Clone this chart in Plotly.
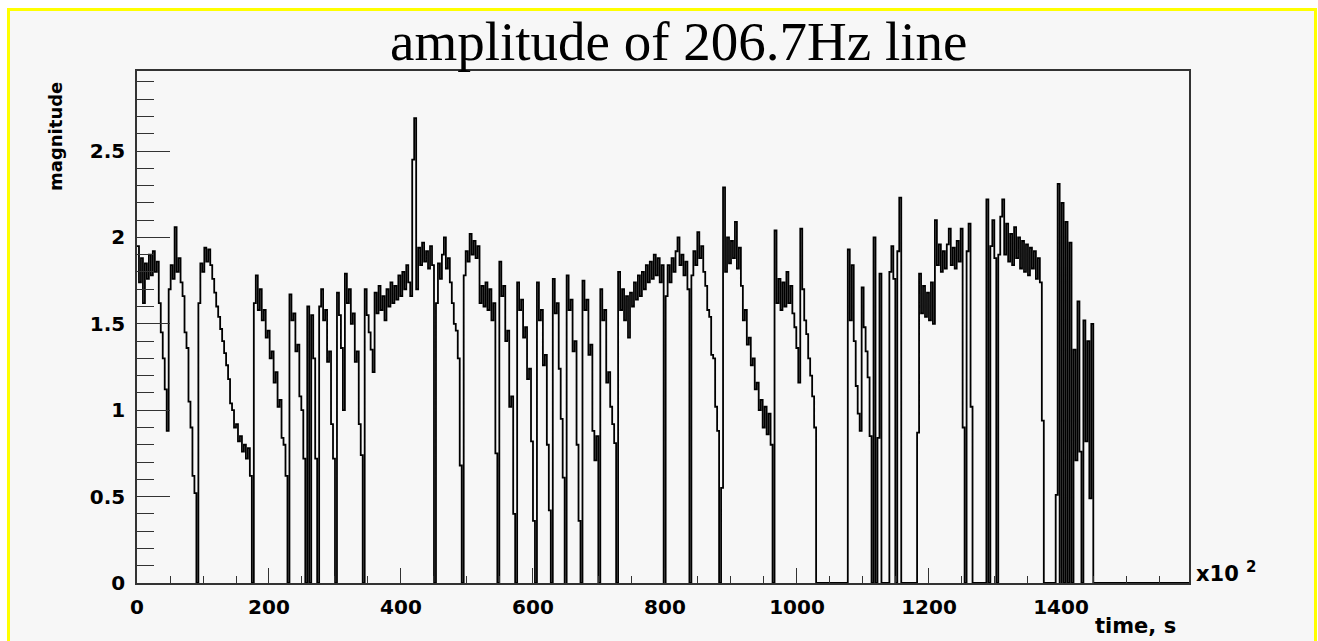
import numpy as np
import plotly.graph_objects as go

# Histogram binning (time axis in units of 10^2 s)
BIN = 3.0
T_MAX = 1594.0

# Start time of each contiguous run of filled bins, and the bin contents of that run.
# Bins outside these runs are empty (magnitude 0).
run_start = [0, 48, 93, 177, 231, 258, 264, 276, 303, 315, 345, 453, 495, 549, 576,
             606, 630, 651, 675, 702, 729, 801, 840, 885, 966, 1077, 1116, 1140,
             1182, 1257, 1287, 1293, 1305, 1392]

run_values = [
    [1.95, 1.74, 1.88, 1.62, 1.85, 1.76, 1.90, 1.78, 1.92, 1.80, 1.86, 1.62, 1.45, 1.30, 1.12, 0.88],
    [1.70, 1.84, 1.76, 2.06, 1.80, 1.88, 1.74, 1.66, 1.45, 1.36, 1.05, 0.90, 0.62, 0.52],
    [1.62, 1.85, 1.80, 1.94, 1.86, 1.93, 1.84, 1.76, 1.68, 1.60, 1.54, 1.47, 1.40, 1.33, 1.26,
     1.18, 1.04, 1.00, 0.90, 0.92, 0.82, 0.85, 0.76, 0.80, 0.72, 0.78, 0.62],
    [1.62, 1.78, 1.58, 1.70, 1.52, 1.58, 1.42, 1.46, 1.30, 1.34, 1.16, 1.22, 1.02, 1.06, 0.84, 0.80, 0.62],
    [1.67, 1.52, 1.56, 1.34, 1.38, 1.08, 1.00, 0.72],
    [1.60],
    [1.55, 1.30, 0.72],
    [1.60, 1.70, 1.52, 1.58, 1.28, 1.34, 0.92, 0.72],
    [1.68, 1.55, 1.36, 1.00],
    [1.79, 1.62, 1.70, 1.50, 1.56, 1.28, 1.34, 0.92, 0.74],
    [1.70, 1.55, 1.45, 1.35, 1.22, 1.68, 1.56, 1.72, 1.58, 1.66, 1.52, 1.70, 1.60, 1.74, 1.62,
     1.72, 1.64, 1.78, 1.66, 1.80, 1.70, 1.84, 1.74, 1.66, 2.45, 2.69, 1.70, 1.94, 1.84, 1.97,
     1.86, 1.92, 1.82, 1.95, 1.84],
    [1.62, 1.85, 1.76, 1.90, 2.00, 1.82, 1.88, 1.74, 1.62, 1.50, 1.46, 1.30, 0.68],
    [1.78, 1.92, 1.86, 2.02, 1.90, 1.98, 1.88, 1.95, 1.62, 1.72, 1.60, 1.74, 1.58, 1.70, 1.52, 1.62, 0.75],
    [1.86, 1.66, 1.72, 1.40, 1.46, 1.02, 1.08, 0.40],
    [1.74, 1.58, 1.64, 1.42, 1.48, 1.18, 1.24, 0.82, 0.36],
    [1.74, 1.52, 1.58, 1.26, 1.32, 0.80, 0.42],
    [1.76, 1.56, 1.62, 1.24, 0.95, 0.61],
    [1.78, 1.58, 1.64, 1.34, 1.40, 0.80, 0.36],
    [1.75, 1.58, 1.64, 1.32, 1.38, 0.88, 0.71, 0.85],
    [1.70, 1.52, 1.58, 1.16, 1.22, 1.02, 0.92, 0.81],
    [1.80, 1.58, 1.70, 1.52, 1.66, 1.42, 1.68, 1.60, 1.74, 1.64, 1.78, 1.66, 1.80, 1.70, 1.84,
     1.74, 1.86, 1.76, 1.90, 1.78, 1.88, 1.74, 1.84],
    [1.66, 1.84, 1.74, 1.88, 1.80, 1.92, 2.00, 1.84, 1.90, 1.78, 1.86, 1.70],
    [1.78, 1.92, 1.84, 2.03, 1.88, 1.95, 1.80, 1.72, 1.58, 1.54, 1.32, 1.30, 1.02, 0.88],
    [0.55, 2.29, 1.80, 2.00, 1.85, 1.98, 1.88, 2.09, 1.82, 1.94, 1.72, 1.52, 1.58, 1.38, 1.42,
     1.26, 1.30, 1.12, 1.16, 1.00, 1.06, 0.90, 1.02, 0.86, 0.98, 0.80],
    [2.04, 1.62, 1.76, 1.58, 1.74, 1.60, 1.80, 1.62, 1.72, 1.56, 1.48, 1.36, 1.16, 2.05, 1.70,
     1.52, 1.44, 1.30, 1.20, 1.08, 0.90],
    [1.93, 1.52, 1.84, 1.40, 1.14, 0.98, 0.88, 1.71, 1.48, 1.34, 1.19, 0.85],
    [2.00, 0.0, 0.84, 1.79],
    [1.80, 1.95, 1.76, 0.0, 1.92, 2.23],
    [0.87, 1.79, 1.56, 1.72, 1.54, 1.68, 1.52, 1.74, 1.50, 2.10, 1.84, 1.96, 1.80, 1.92, 1.82,
     1.96, 2.05, 1.84, 1.94, 1.82, 1.98, 1.86, 2.05, 0.90],
    [1.92, 2.08, 1.02],
    [2.22],
    [1.95, 2.10, 1.88],
    [1.90, 2.12, 2.22, 1.90, 2.08, 1.86, 2.02, 1.84, 2.06, 1.88, 2.00, 1.82, 1.98, 1.80, 1.96,
     1.78, 1.94, 1.82, 1.92, 1.76, 1.88, 1.74, 0.94],
    [0.51, 2.31, 0.0, 2.20, 0.0, 2.09, 0.0, 1.97, 0.0, 1.35, 0.71, 1.63, 0.76, 0.0, 1.52,
     0.82, 1.40, 0.49, 1.50],
]

x_tick_vals = [0, 200, 400, 600, 800, 1000, 1200, 1400]
y_tick_vals = [0, 0.5, 1, 1.5, 2, 2.5]
y_tick_text = ["0", "0.5", "1", "1.5", "2", "2.5"]

# Fill the histogram bins
n_bins = int(np.ceil(T_MAX / BIN))
magnitude = np.zeros(n_bins)
for start, vals in zip(run_start, run_values):
    k = int(round(start / BIN))
    magnitude[k:k + len(vals)] = vals

edges = np.arange(n_bins + 1) * BIN
xs = edges
ys = np.append(magnitude, magnitude[-1])

# Canvas geometry (pixels)
W, H = 1318, 641
L, R, T, B = 137, 129, 71, 58
PW, PH = W - L - R, H - T - B


def px(xp):
    return (xp - L) / PW


def py(yp):
    return (H - B - yp) / PH


fig = go.Figure()
fig.add_trace(go.Scatter(
    x=xs, y=ys, mode="lines", line=dict(color="black", width=1.8, shape="hv"),
    hoverinfo="skip", showlegend=False,
))

tick_font = dict(family="DejaVu Sans", size=20, color="black", weight="bold")
axis_common = dict(
    showline=True, mirror=True, linecolor="#333333", linewidth=1.5,
    ticks="inside", tickcolor="#333333", tickwidth=1,
    showgrid=False, zeroline=False, tickfont=tick_font,
)

fig.update_xaxes(
    range=[0, T_MAX], tickmode="array", tickvals=x_tick_vals,
    ticktext=[str(v) for v in x_tick_vals], ticklen=15,
    minor=dict(dtick=50, tick0=0, ticklen=7, ticks="inside", tickcolor="#333333", tickwidth=1),
    ticklabelstandoff=5,
    **axis_common,
)
fig.update_yaxes(
    range=[0, 2.963], tickmode="array", tickvals=y_tick_vals,
    ticktext=y_tick_text, ticklen=33,
    minor=dict(dtick=0.1, tick0=0, ticklen=17, ticks="inside", tickcolor="#333333", tickwidth=1),
    ticklabelstandoff=6,
    **axis_common,
)

# Outer frame: light grey pad with a yellow border
fig.add_shape(
    type="rect", xref="paper", yref="paper", layer="below",
    x0=px(8.5), x1=px(1315.5), y0=py(700), y1=py(9.5),
    fillcolor="#f7f7f7", line=dict(color="#ffff00", width=3),
)

annotations = [
    dict(text="amplitude of 206.7Hz line", x=px(678), y=py(74), xanchor="center", yanchor="bottom",
         font=dict(family="Liberation Serif", size=55, color="black")),
    dict(text="magnitude", x=px(55), y=py(137), xanchor="center", yanchor="middle", textangle=-90,
         font=dict(family="DejaVu Sans", size=18, color="black", weight="bold")),
    dict(text="time, s", x=px(1178), y=py(612), xanchor="right", yanchor="top",
         font=dict(family="DejaVu Sans", size=21, color="black", weight="bold")),
    dict(text="x10", x=px(1194), y=py(588), xanchor="left", yanchor="bottom",
         font=dict(family="DejaVu Sans", size=21, color="black", weight="bold")),
    dict(text="2", x=px(1244), y=py(578), xanchor="left", yanchor="bottom",
         font=dict(family="DejaVu Sans", size=15, color="black", weight="bold")),
]
for a in annotations:
    fig.add_annotation(xref="paper", yref="paper", showarrow=False, **a)

fig.update_layout(
    width=W, height=H, margin=dict(l=L, r=R, t=T, b=B, pad=0),
    paper_bgcolor="white", plot_bgcolor="#f7f7f7",
)

fig.write_html("out.html")
